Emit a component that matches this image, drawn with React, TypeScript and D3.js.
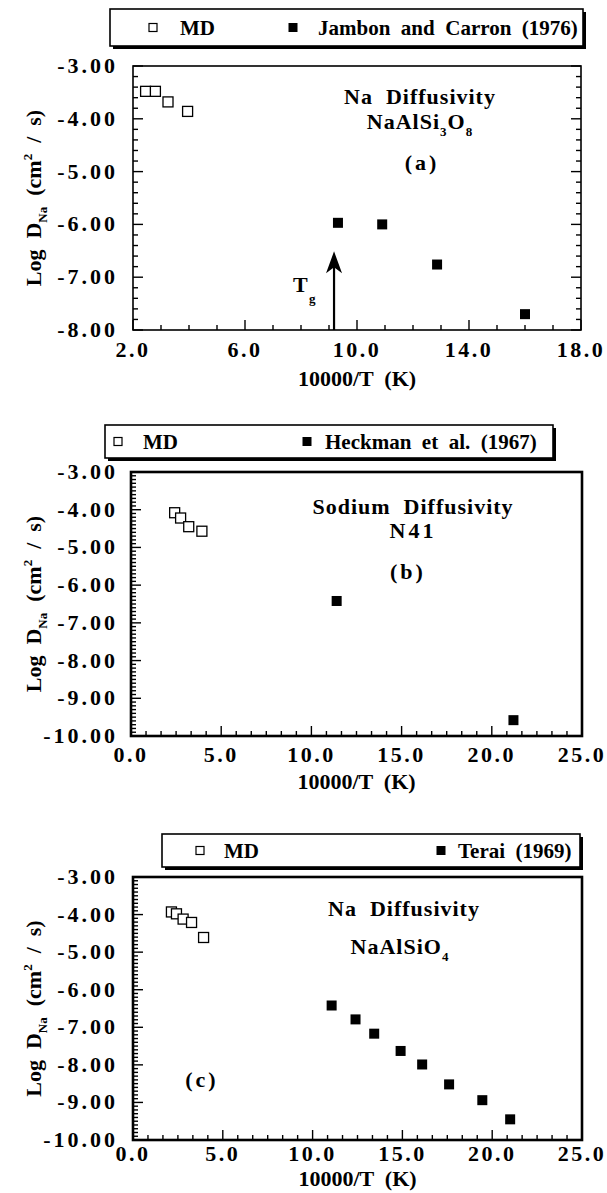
import React, { useEffect } from 'react';
import * as d3 from 'd3';

const W = 607;
const H = 1193;
const FONT = '"Liberation Serif", "Times New Roman", serif';

// ---------- Panel (a) data ----------
const aMdX = [2.45, 2.8, 3.25, 3.95];
const aMdY = [-3.48, -3.48, -3.68, -3.86];
const aExpX = [9.32, 10.9, 12.86, 16.0];
const aExpY = [-5.97, -6.0, -6.76, -7.7];
const aXTicks = [2, 6, 10, 14, 18];
const aYTicks = [-3, -4, -5, -6, -7, -8];
const aTgX = 9.18;
const aTgTipY = -6.51;

// ---------- Panel (b) data ----------
const bMdX = [2.42, 2.75, 3.2, 3.93];
const bMdY = [-4.08, -4.22, -4.45, -4.57];
const bExpX = [11.4, 21.2];
const bExpY = [-6.42, -9.58];

// ---------- Panel (c) data ----------
const cMdX = [2.14, 2.42, 2.79, 3.26, 3.93];
const cMdY = [-3.93, -3.98, -4.12, -4.21, -4.61];
const cExpX = [11.06, 12.39, 13.43, 14.9, 16.1, 17.6, 19.45, 21.0];
const cExpY = [-6.42, -6.79, -7.17, -7.63, -7.99, -8.52, -8.94, -9.45];

const bcXTicks = [0, 5, 10, 15, 20, 25];
const bcYTicks = [-3, -4, -5, -6, -7, -8, -9, -10];

const legendA = ['MD', 'Jambon  and  Carron  (1976)'];
const legendB = ['MD', 'Heckman  et  al.  (1967)'];
const legendC = ['MD', 'Terai  (1969)'];

type Frame = { x0: number; x1: number; y0: number; y1: number };

type PanelProps = {
  frame: Frame;
  xDomain: [number, number];
  yDomain: [number, number];
  xTicks: number[];
  yTicks: number[];
  xMinor: number;
  yMinor: number;
  rightTicks: boolean;
  strokeW: number;
  xLabelY: number;
  xTitleY: number;
  yLabelX: number;
  mdX: number[];
  mdY: number[];
  expX: number[];
  expY: number[];
  children?: (x: d3.ScaleLinear<number, number>, y: d3.ScaleLinear<number, number>) => React.ReactNode;
};

function Panel(p: PanelProps) {
  const x = d3.scaleLinear().domain(p.xDomain).range([p.frame.x0, p.frame.x1]);
  const y = d3.scaleLinear().domain(p.yDomain).range([p.frame.y1, p.frame.y0]);
  const eps = 1e-6;
  const xMinorTicks = d3.range(p.xDomain[0], p.xDomain[1] + eps, p.xMinor);
  const yMinorTicks = d3.range(p.yDomain[0], p.yDomain[1] + eps, p.yMinor);
  const isMajor = (v: number, arr: number[]) => arr.some((t) => Math.abs(t - v) < 1e-4);
  const fr = p.frame;
  const yMid = (fr.y0 + fr.y1) / 2;
  const xMid = (fr.x0 + fr.x1) / 2;
  const ms = 10;
  return (
    <g>
      {xMinorTicks.map((v, i) => {
        const L = isMajor(v, p.xTicks) ? 10 : 5;
        return <line key={'xt' + i} x1={x(v)} x2={x(v)} y1={fr.y1} y2={fr.y1 - L} stroke="#000" strokeWidth={1.4} />;
      })}
      {yMinorTicks.map((v, i) => {
        const L = isMajor(v, p.yTicks) ? 10 : 5;
        return (
          <g key={'yt' + i}>
            <line x1={fr.x0} x2={fr.x0 + L} y1={y(v)} y2={y(v)} stroke="#000" strokeWidth={1.4} />
            {p.rightTicks && <line x1={fr.x1} x2={fr.x1 - L} y1={y(v)} y2={y(v)} stroke="#000" strokeWidth={1.4} />}
          </g>
        );
      })}
      <rect x={fr.x0} y={fr.y0} width={fr.x1 - fr.x0} height={fr.y1 - fr.y0} fill="none" stroke="#000" strokeWidth={p.strokeW} />
      {p.xTicks.map((v) => (
        <text key={'xl' + v} x={x(v)} y={p.xLabelY} textAnchor="middle" fontSize={22} fontWeight="bold" letterSpacing={2.5}>
          {v.toFixed(1)}
        </text>
      ))}
      {p.yTicks.map((v) => (
        <text key={'yl' + v} x={p.yLabelX} y={y(v) + 7} textAnchor="end" fontSize={22} fontWeight="bold" letterSpacing={3}>
          {v.toFixed(2)}
        </text>
      ))}
      <text x={xMid} y={p.xTitleY} textAnchor="middle" fontSize={22} fontWeight="bold" style={{ whiteSpace: 'pre' }}>
        {'10000/T  (K)'}
      </text>
      <text transform={`translate(41, ${yMid}) rotate(-90)`} textAnchor="middle" fontSize={22} fontWeight="bold" style={{ whiteSpace: 'pre' }}>
        {'Log  D'}
        <tspan dy={6} fontSize={13}>{'Na'}</tspan>
        <tspan dy={-6}>{'  (cm'}</tspan>
        <tspan dy={-9} fontSize={13}>{'2'}</tspan>
        <tspan dy={9}>{'  /  s)'}</tspan>
      </text>
      {p.mdX.map((v, i) => (
        <rect key={'md' + i} x={x(v) - ms / 2} y={y(p.mdY[i]) - ms / 2} width={ms} height={ms} fill="#fff" stroke="#000" strokeWidth={1.3} />
      ))}
      {p.expX.map((v, i) => (
        <rect key={'ex' + i} x={x(v) - ms / 2} y={y(p.expY[i]) - ms / 2} width={ms} height={ms} fill="#000" />
      ))}
      {p.children && p.children(x, y)}
    </g>
  );
}

function Legend({ x0, x1, y0, y1, labels, openX, openTextX, fillX, fillTextX }: {
  x0: number; x1: number; y0: number; y1: number; labels: string[];
  openX: number; openTextX: number; fillX: number; fillTextX: number;
}) {
  const cy = (y0 + y1) / 2;
  return (
    <g>
      <rect x={x0 + 3} y={y0 + 3} width={x1 - x0} height={y1 - y0} fill="#000" />
      <rect x={x0} y={y0} width={x1 - x0} height={y1 - y0} fill="#fff" stroke="#000" strokeWidth={1.6} />
      <rect x={openX - 4} y={cy - 4} width={8} height={8} fill="#fff" stroke="#000" strokeWidth={1.2} />
      <text x={openTextX} y={cy + 7} fontSize={21} fontWeight="bold" style={{ whiteSpace: 'pre' }}>{labels[0]}</text>
      <rect x={fillX - 4.5} y={cy - 4.5} width={9} height={9} fill="#000" />
      <text x={fillTextX} y={cy + 7} fontSize={21} fontWeight="bold" style={{ whiteSpace: 'pre' }}>{labels[1]}</text>
    </g>
  );
}

export default function App() {
  useEffect(() => {
    document.body.style.margin = '0';
  }, []);
  return (
    <svg width={W} height={H} viewBox={`0 0 ${W} ${H}`} style={{ display: 'block', background: '#fff' }} fontFamily={FONT}>
      <rect x={0} y={0} width={W} height={H} fill="#fff" />

      {/* ---------- (a) ---------- */}
      <Legend x0={110} x1={583} y0={9} y1={46} labels={legendA} openX={153} openTextX={180} fillX={293} fillTextX={318} />
      <Panel
        frame={{ x0: 133, x1: 581, y0: 66, y1: 330 }}
        xDomain={[2, 18]} yDomain={[-8, -3]}
        xTicks={aXTicks} yTicks={aYTicks}
        xMinor={1} yMinor={0.2} rightTicks={true} strokeW={1.6}
        xLabelY={357} xTitleY={386} yLabelX={118}
        mdX={aMdX} mdY={aMdY} expX={aExpX} expY={aExpY}
      >
        {(x, y) => {
          const ax = x(aTgX);
          const tip = y(aTgTipY);
          const base = y(-8);
          return (
            <g>
              <line x1={ax} x2={ax} y1={base} y2={tip + 12} stroke="#000" strokeWidth={2.2} />
              <path d={`M${ax},${tip} L${ax + 8},${tip + 22} L${ax},${tip + 16} L${ax - 8},${tip + 22} Z`} fill="#000" />
              <text x={293} y={292} fontSize={22} fontWeight="bold">T</text>
              <text x={309} y={303} fontSize={13} fontWeight="bold">g</text>
              <text x={420} y={104} textAnchor="middle" fontSize={22} fontWeight="bold" letterSpacing={1} style={{ whiteSpace: 'pre' }}>{'Na  Diffusivity'}</text>
              <text x={420} y={129} textAnchor="middle" fontSize={22} fontWeight="bold" letterSpacing={1}>
                {'NaAlSi'}<tspan dy={7} fontSize={13}>3</tspan><tspan dy={-7}>O</tspan><tspan dy={7} fontSize={13}>8</tspan>
              </text>
              <text x={422} y={170} textAnchor="middle" fontSize={22} fontWeight="bold" letterSpacing={3}>(a)</text>
            </g>
          );
        }}
      </Panel>

      {/* ---------- (b) ---------- */}
      <Legend x0={105} x1={553} y0={425} y1={458} labels={legendB} openX={118} openTextX={143} fillX={307} fillTextX={325} />
      <Panel
        frame={{ x0: 131, x1: 582, y0: 472, y1: 736 }}
        xDomain={[0, 25]} yDomain={[-10, -3]}
        xTicks={bcXTicks} yTicks={bcYTicks}
        xMinor={5 / 6} yMinor={0.1} rightTicks={false} strokeW={2.6}
        xLabelY={762} xTitleY={789} yLabelX={118}
        mdX={bMdX} mdY={bMdY} expX={bExpX} expY={bExpY}
      >
        {() => (
          <g>
            <text x={413} y={514} textAnchor="middle" fontSize={22} fontWeight="bold" letterSpacing={1} style={{ whiteSpace: 'pre' }}>{'Sodium  Diffusivity'}</text>
            <text x={413} y={538} textAnchor="middle" fontSize={22} fontWeight="bold" letterSpacing={3}>N41</text>
            <text x={408} y={579} textAnchor="middle" fontSize={22} fontWeight="bold" letterSpacing={3}>(b)</text>
          </g>
        )}
      </Panel>

      {/* ---------- (c) ---------- */}
      <Legend x0={162} x1={580} y0={834} y1={867} labels={legendC} openX={200} openTextX={224} fillX={441} fillTextX={458} />
      <Panel
        frame={{ x0: 133, x1: 582, y0: 877, y1: 1140 }}
        xDomain={[0, 25]} yDomain={[-10, -3]}
        xTicks={bcXTicks} yTicks={bcYTicks}
        xMinor={5 / 6} yMinor={0.1} rightTicks={false} strokeW={2.6}
        xLabelY={1161} xTitleY={1186} yLabelX={118}
        mdX={cMdX} mdY={cMdY} expX={cExpX} expY={cExpY}
      >
        {() => (
          <g>
            <text x={404} y={916} textAnchor="middle" fontSize={22} fontWeight="bold" letterSpacing={1} style={{ whiteSpace: 'pre' }}>{'Na  Diffusivity'}</text>
            <text x={400} y={954} textAnchor="middle" fontSize={22} fontWeight="bold" letterSpacing={1}>
              {'NaAlSiO'}<tspan dy={7} fontSize={13}>4</tspan>
            </text>
            <text x={202} y={1087} textAnchor="middle" fontSize={22} fontWeight="bold" letterSpacing={3}>(c)</text>
          </g>
        )}
      </Panel>
    </svg>
  );
}
